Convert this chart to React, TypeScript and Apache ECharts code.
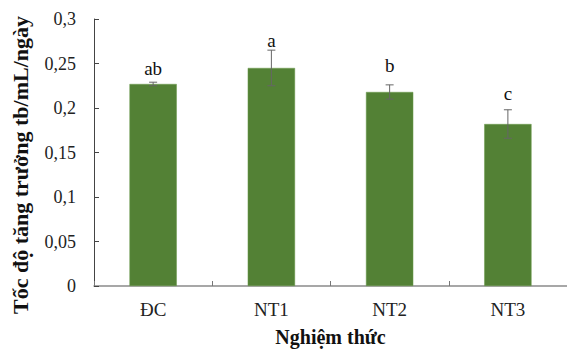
import React, { useEffect, useRef } from "react";
import * as echarts from "echarts";

const categories = ["ĐC", "NT1", "NT2", "NT3"];
const means = [0.227, 0.245, 0.218, 0.182];
const errors = [0.002, 0.02, 0.008, 0.016];
const letters = ["ab", "a", "b", "c"];
const letterValues = [0.2447, 0.2762, 0.2472, 0.2162];
const yTicks = [0, 0.05, 0.1, 0.15, 0.2, 0.25, 0.3];

const FONT = "'Liberation Serif', 'Times New Roman', serif";

export default function App() {
  const ref = useRef<HTMLDivElement>(null);
  useEffect(() => {
    if (!ref.current) return;
    const chart = echarts.init(ref.current, undefined, { renderer: "svg" });
    chart.setOption({
      animation: false,
      textStyle: { fontFamily: FONT },
      grid: { left: 94, top: 19, bottom: 62, width: 484, containLabel: false },
      xAxis: {
        type: "category",
        data: categories,
        boundaryGap: true,
        name: "Nghiệm thức",
        nameLocation: "middle",
        nameGap: 41,
        nameTextStyle: { fontFamily: FONT, fontSize: 20, fontWeight: "bold", color: "#111" },
        axisLine: { lineStyle: { color: "#8a8a8a", width: 1.5 } },
        axisTick: { show: true, inside: true, length: 5, lineStyle: { color: "#777" } },
        axisLabel: { fontFamily: FONT, fontSize: 19, color: "#222", margin: 14 },
      },
      yAxis: {
        type: "value",
        min: 0,
        max: yTicks[yTicks.length - 1],
        interval: 0.05,
        splitLine: { show: false },
        axisLine: { show: true, lineStyle: { color: "#444", width: 1 } },
        axisTick: { show: true, inside: true, length: 5, lineStyle: { color: "#444" } },
        axisLabel: {
          fontFamily: FONT,
          fontSize: 18,
          color: "#222",
          margin: 18,
          formatter: (v: number) => String(Math.round(v * 100) / 100).replace(".", ","),
        },
      },
      graphic: [
        {
          type: "text",
          x: 20,
          y: 165,
          rotation: Math.PI / 2,
          style: {
            text: "Tốc độ tăng trưởng tb/mL/ngày",
            fontFamily: FONT,
            fontSize: 22,
            fontWeight: "bold",
            fill: "#111",
            align: "center",
            verticalAlign: "middle",
          },
        },
      ],
      series: [
        {
          type: "bar",
          data: means,
          barWidth: "40%",
          itemStyle: { color: "#538135", borderColor: "#6a9a4c", borderWidth: 0.5 },
        },
        {
          type: "custom",
          data: means.map((m, i) => [i, m, errors[i], letterValues[i]]),
          encode: { x: 0, y: 1 },
          z: 5,
          renderItem: (params: any, api: any) => {
            const i = api.value(0);
            const m = api.value(1);
            const e = api.value(2);
            const lv = api.value(3);
            const top = api.coord([i, m + e]);
            const bot = api.coord([i, m - e]);
            const lab = api.coord([i, lv]);
            const cap = 4;
            const ls = { stroke: "#666", lineWidth: 1 };
            return {
              type: "group",
              children: [
                { type: "line", shape: { x1: top[0], y1: top[1], x2: bot[0], y2: bot[1] }, style: ls },
                { type: "line", shape: { x1: top[0] - cap, y1: top[1], x2: top[0] + cap, y2: top[1] }, style: ls },
                { type: "line", shape: { x1: bot[0] - cap, y1: bot[1], x2: bot[0] + cap, y2: bot[1] }, style: ls },
                {
                  type: "text",
                  x: lab[0],
                  y: lab[1],
                  style: {
                    text: letters[params.dataIndex],
                    fontFamily: FONT,
                    fontSize: 19,
                    fill: "#111",
                    align: "center",
                    verticalAlign: "middle",
                  },
                },
              ],
            };
          },
        },
      ],
    });
    return () => chart.dispose();
  }, []);
  return (
    <div
      ref={ref}
      style={{ position: "fixed", left: 0, top: 0, width: 567, height: 352, background: "#fff" }}
    />
  );
}
